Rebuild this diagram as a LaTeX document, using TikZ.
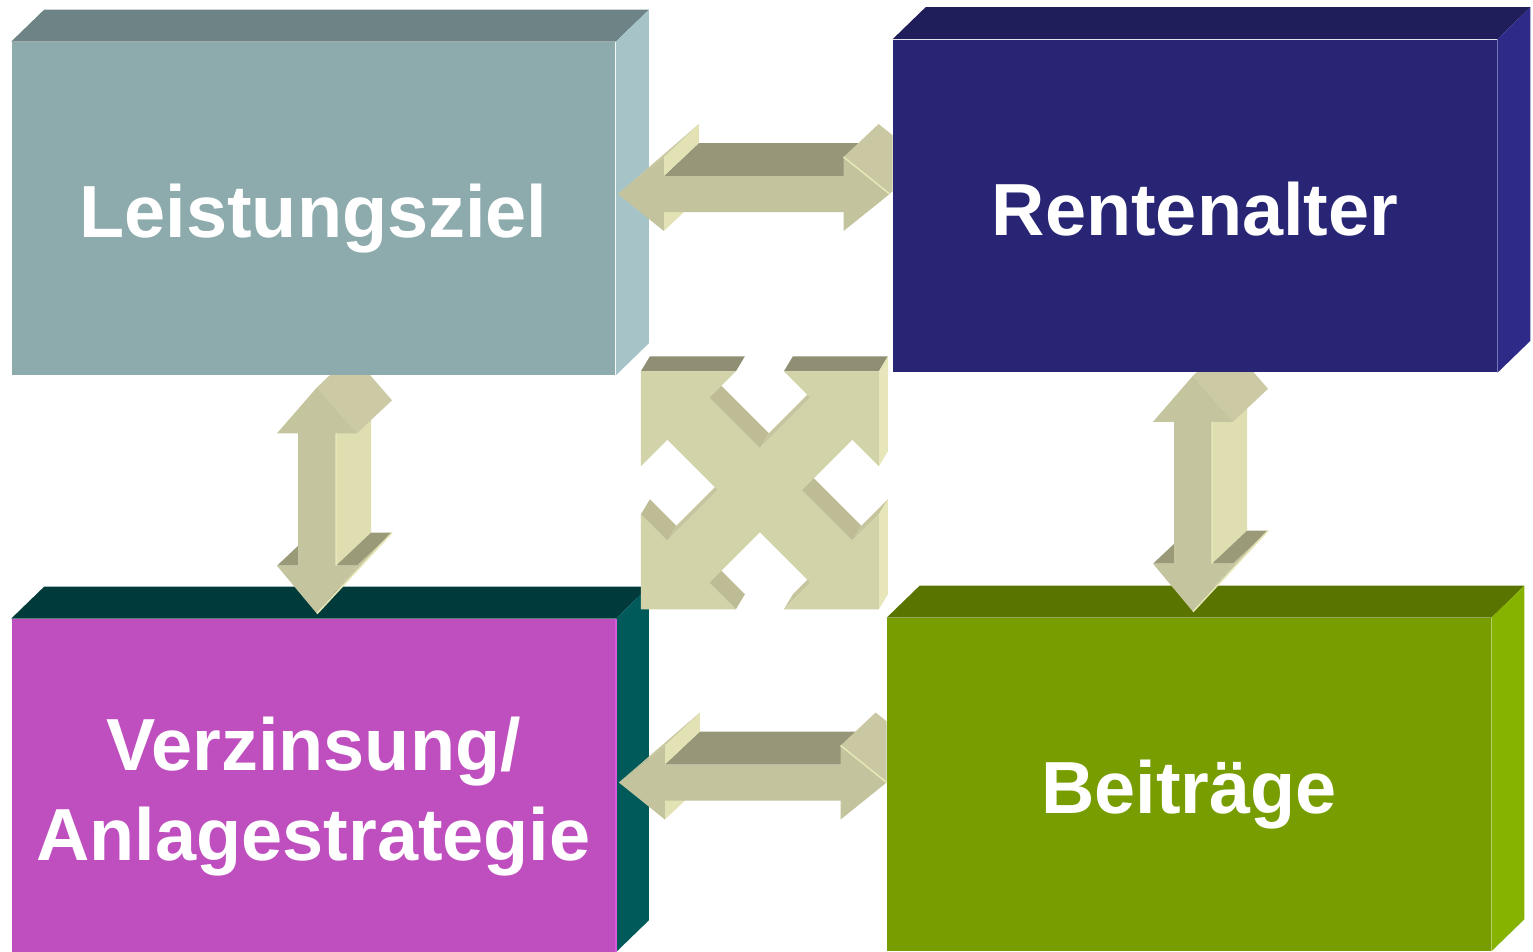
\documentclass[tikz,border=0pt]{standalone}
\usepackage{fontspec}
\setmainfont{Liberation Sans}
\usetikzlibrary{calc}
% box colours: front, top, side
\definecolor{zielfront}{HTML}{8DAAAC}
\definecolor{zieltop}{HTML}{6E8385}
\definecolor{zielside}{HTML}{A6C4C7}
\definecolor{rentefront}{HTML}{272574}
\definecolor{rentetop}{HTML}{1F1E5B}
\definecolor{renteside}{HTML}{2E2B88}
\definecolor{verzfront}{HTML}{BF4FBF}
\definecolor{verztop}{HTML}{003A3A}
\definecolor{verzside}{HTML}{005A5A}
\definecolor{verzedge}{HTML}{D65ADA}
\definecolor{beitfront}{HTML}{789D00}
\definecolor{beittop}{HTML}{5A7400}
\definecolor{beitside}{HTML}{86B300}
% arrow colours
\definecolor{hfront}{HTML}{C3C39D}
\definecolor{htop}{HTML}{979679}
\definecolor{hlight}{HTML}{E3E2B5}
\definecolor{hhead}{HTML}{C9C8A2}
\definecolor{vfront}{HTML}{C4C49E}
\definecolor{vlight}{HTML}{DFDEB0}
\definecolor{vtop}{HTML}{9A9978}
\definecolor{vhead}{HTML}{CBCAA4}
\definecolor{vedge}{HTML}{E8E7B8}
\definecolor{xfront}{HTML}{D3D3AA}
\definecolor{xtop}{HTML}{908F74}
\definecolor{xnotch}{HTML}{BDBC94}
\definecolor{xthin}{HTML}{C6C59E}
\definecolor{xlight}{HTML}{E6E6BA}
\tikzset{
  % front faces of the boxes
  box/.style = {
    fill=#1,
    minimum width=6.03cm,
    minimum height=3.32cm,
    inner sep=0pt,
    text=white,
    align=center,
    text height=0.58cm,
    text depth=0cm,
    font=\fontsize{21}{25.6}\selectfont\bfseries,
  },
  % two lines of text
  two lines/.style = {
    text height=1.49cm,
    text depth=0cm,
  },
  % light edge on the arrows
  bevel/.style = {
    draw=vedge,
    line width=0.015cm,
  },
}
% one side face of an extruded shape, from edge (#2)--(#3)
\newcommand\arrowface[3]{%
  \fill[#1] (#2) -- (#3) -- ($(#3)+(\ex,\ey)$) -- ($(#2)+(\ex,\ey)$) -- cycle;}
% top and right faces of a box node
\newcommand\boxsides[3]{%
  \fill[#2] (#1.north west) -- ++(33,-32) -- ($(#1.north east)+(33,-32)$) -- (#1.north east) -- cycle;
  \fill[#3] (#1.north east) -- ++(33,-32) -- ($(#1.south east)+(33,-32)$) -- (#1.south east) -- cycle;}
% horizontal block arrow between two boxes
\newcommand\hblock[4]{%
  \begin{scope}
    \clip (#1.north east) rectangle (#2.south west);
    \def\ex{35}\def\ey{-33}
    \path (#3) coordinate (a) ($(#3)+(46,-37)$) coordinate (b) ($(#3)+(46,-18)$) coordinate (c)
      ($(#4)+(-46,-18)$) coordinate (d) ($(#4)+(-46,-37)$) coordinate (e) (#4) coordinate (f)
      ($(#4)+(-46,37)$) coordinate (g) ($(#4)+(-46,18)$) coordinate (h)
      ($(#3)+(46,18)$) coordinate (i) ($(#3)+(46,37)$) coordinate (j);
    \arrowface{htop}{c}{d}
    \arrowface{hlight}{b}{c}
    \arrowface{hlight}{i}{j}
    \fill[hhead] (a) -- (b) -- ($(b)+(\ex,\ey)$) -- cycle;
    \arrowface{hhead}{e}{f}
    \fill[hfront] (a) -- (b) -- (c) -- (d) -- (e) -- (f) -- (g) -- (h) -- (i) -- (j) -- cycle;
    \draw[bevel] (e) -- (f);
  \end{scope}}
% vertical block arrow between two boxes
\newcommand\vblock[4]{%
  \begin{scope}
    \clip (#1.south west) rectangle ($(#2.north east)+(40,0)$);
    \def\ex{35}\def\ey{-33}
    \path (#3) coordinate (t) ($(#3)+(40,46)$) coordinate (r1) ($(#3)+(19,46)$) coordinate (r2)
      ($(#4)+(19,-48)$) coordinate (r3) ($(#4)+(40,-48)$) coordinate (r4) (#4) coordinate (b)
      ($(#4)+(-40,-48)$) coordinate (l4) ($(#4)+(-19,-48)$) coordinate (l3)
      ($(#3)+(-19,46)$) coordinate (l2) ($(#3)+(-40,46)$) coordinate (l1);
    \arrowface{vlight}{r2}{r3}
    \arrowface{vtop}{r3}{r4}
    \arrowface{vtop}{l4}{l3}
    \fill[vfront] (r4) -- (b) -- ($(r4)+(\ex,\ey)$) -- cycle;
    \arrowface{vhead}{t}{r1}
    \fill[vfront] (t) -- (r1) -- (r2) -- (r3) -- (r4) -- (b) -- (l4) -- (l3) -- (l2) -- (l1) -- cycle;
    \draw[bevel] (r2) -- (r3) (b) -- ($(r4)+(\ex,\ey)$);
  \end{scope}}
\begin{document}
\begin{tikzpicture}[x=0.01cm,y=-0.01cm]
  \useasboundingbox (0,0) rectangle (1533,951);
  % boxes
  \node[box=verzfront, two lines] (verz) at (313.5,785.5) {Verzinsung/\\Anlagestrategie};
  \boxsides{verz}{verztop}{verzside}
  \draw[verzedge, line width=0.025cm] (verz.north east) -- (verz.south east);
  \node[box=beitfront] (beit) at (1189,784.5) {Beiträge};
  \boxsides{beit}{beittop}{beitside}
  \node[box=zielfront] (ziel) at (313.5,208.5) {Leistungsziel};
  \boxsides{ziel}{zieltop}{zielside}
  \node[box=rentefront] (rente) at (1195,206) {Rentenalter};
  \boxsides{rente}{rentetop}{renteside}
  % arrows between the boxes
  \hblock{ziel}{rente}{$(ziel.east)+(2,-14.5)$}{$(rente.west)+(-3,-12)$}
  \hblock{verz}{beit}{$(verz.east)+(3,-3)$}{$(beit.west)+(0,-2)$}
  \vblock{ziel}{verz}{$(ziel.south)+(3.5,12)$}{$(verz.north)+(3.5,-5)$}
  \vblock{rente}{beit}{$(rente.south)+(-2,3)$}{$(beit.north)+(4,-6)$}
  % four way arrow in the middle
  \coordinate (q) at ($(ziel.south east)+(25,-4)$);
  \foreach \n/\u/\w in {1/0/0, 2/95/0, 3/68.5/26.5, 4/119/77, 5/169.5/26.5, 6/143/0,
      7/238/0, 8/238/95, 9/211.5/68.5, 10/161/119, 11/211.5/169.5, 12/238/143,
      13/238/238, 14/143/238, 15/169.5/211.5, 16/119/161, 17/68.5/211.5, 18/95/238,
      19/0/238, 20/0/143, 21/26.5/169.5, 22/77/119, 23/26.5/68.5, 24/0/95}
    \coordinate (k\n) at ($(q)+(\u,\w)$);
  \def\ex{9}\def\ey{-15}
  \arrowface{xtop}{k1}{k2}
  \arrowface{xtop}{k6}{k7}
  \arrowface{xnotch}{k3}{k4}
  \arrowface{xthin}{k4}{k5}
  \arrowface{xlight}{k7}{k8}
  \arrowface{xnotch}{k10}{k11}
  \arrowface{xthin}{k11}{k12}
  \arrowface{xlight}{k12}{k13}
  \arrowface{xthin}{k14}{k15}
  \arrowface{xnotch}{k17}{k18}
  \arrowface{xnotch}{k20}{k21}
  \arrowface{xthin}{k21}{k22}
  \fill[xfront] (k1) \foreach \i in {2,...,24}{ -- (k\i)} -- cycle;
\end{tikzpicture}
\end{document}
